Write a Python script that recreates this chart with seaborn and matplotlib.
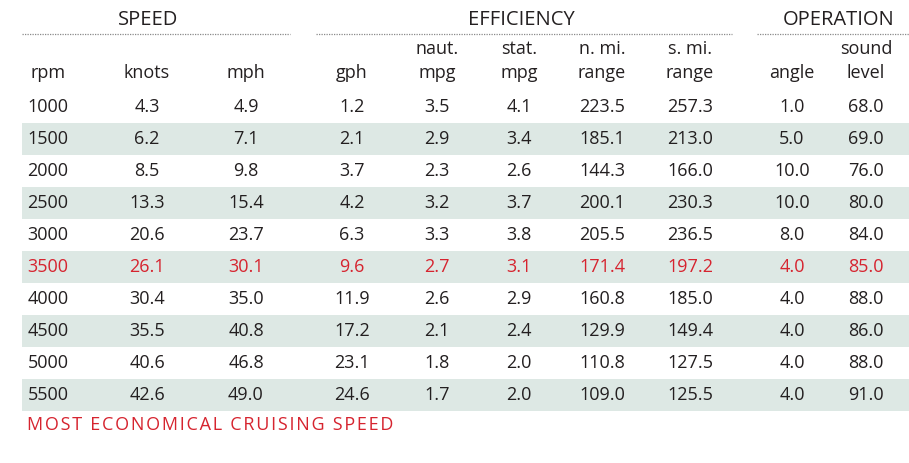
import numpy as np
import pandas as pd
import seaborn as sns
import matplotlib
from matplotlib import pyplot as plt
from matplotlib.colors import ListedColormap

rpm = [1000, 1500, 2000, 2500, 3000, 3500, 4000, 4500, 5000, 5500]
knots = [4.3, 6.2, 8.5, 13.3, 20.6, 26.1, 30.4, 35.5, 40.6, 42.6]
mph = [4.9, 7.1, 9.8, 15.4, 23.7, 30.1, 35.0, 40.8, 46.8, 49.0]
gph = [1.2, 2.1, 3.7, 4.2, 6.3, 9.6, 11.9, 17.2, 23.1, 24.6]
naut_mpg = [3.5, 2.9, 2.3, 3.2, 3.3, 2.7, 2.6, 2.1, 1.8, 1.7]
stat_mpg = [4.1, 3.4, 2.6, 3.7, 3.8, 3.1, 2.9, 2.4, 2.0, 2.0]
nmi_range = [223.5, 185.1, 144.3, 200.1, 205.5, 171.4, 160.8, 129.9, 110.8, 109.0]
smi_range = [257.3, 213.0, 166.0, 230.3, 236.5, 197.2, 185.0, 149.4, 127.5, 125.5]
angle = [1.0, 5.0, 10.0, 10.0, 8.0, 4.0, 4.0, 4.0, 4.0, 4.0]
sound = [68.0, 69.0, 76.0, 80.0, 84.0, 85.0, 88.0, 86.0, 88.0, 91.0]

col_labels = ['rpm', 'knots', 'mph', 'gph', 'naut.\nmpg', 'stat.\nmpg',
              'n. mi.\nrange', 's. mi.\nrange', 'angle', 'sound\nlevel']
groups = ['SPEED', 'EFFICIENCY', 'OPERATION']
best_rpm = 3500
note = 'MOST ECONOMICAL CRUISING SPEED'

df = pd.DataFrame({
    'rpm': rpm, 'knots': knots, 'mph': mph, 'gph': gph, 'naut': naut_mpg,
    'stat': stat_mpg, 'nmi': nmi_range, 'smi': smi_range,
    'angle': angle, 'sound': sound,
})

# layout (pixels)
W, H = 909, 463
col_x = [48, 147, 246, 352, 437, 519, 602, 690, 792, 866]
group_x = [148, 521, 839]
group_span = [(22, 290), (316, 732), (757, 909)]
row0, row_h = 91, 32
ink = '#231f20'
red = '#d6242f'
band = '#dde8e4'
fs = 13

sns.set_theme(style='white')
plt.rcParams['font.family'] = ['Open Sans', 'DejaVu Sans']

fig = plt.figure(figsize=(W / 100, H / 100), dpi=100)

# striped background via heatmap
ax_bg = fig.add_axes([22 / W, 1 - (row0 + row_h * len(df)) / H, (W - 22) / W, row_h * len(df) / H])
stripe = np.array([[i % 2] for i in range(len(df))])
sns.heatmap(stripe, ax=ax_bg, cbar=False, cmap=ListedColormap(['white', band]),
            xticklabels=False, yticklabels=False, linewidths=0)
ax_bg.axis('off')

ax = fig.add_axes([0, 0, 1, 1])
ax.set_xlim(0, W)
ax.set_ylim(H, 0)
ax.axis('off')
ax.patch.set_alpha(0)

for g, gx, (x0, x1) in zip(groups, group_x, group_span):
    ax.text(gx, 20, g, ha='center', va='center', fontsize=14.5, color=ink)
    ax.plot([x0, x1], [34, 34], color='#8a8a8a', lw=0.9, ls=(0, (1, 1)))

for lab, cx in zip(col_labels, col_x):
    lines = lab.split('\n')
    ys = [73] if len(lines) == 1 else [49, 73]
    for t, y in zip(lines, ys):
        ax.text(cx, y, t, ha='center', va='center', fontsize=fs, color=ink)

fmt = ['{:d}'] + ['{:.1f}'] * 9
for i, row in df.iterrows():
    y = row0 + row_h * (i + 0.5)
    c = red if row['rpm'] == best_rpm else ink
    for j, (col, cx) in enumerate(zip(df.columns, col_x)):
        v = int(row[col]) if j == 0 else row[col]
        ax.text(cx, y, fmt[j].format(v), ha='center', va='center', fontsize=fs, color=c)

ax.text(27, 425, '\u200a'.join(note), ha='left', va='center', fontsize=fs, color=red)

plt.savefig('out.png', dpi=100)
